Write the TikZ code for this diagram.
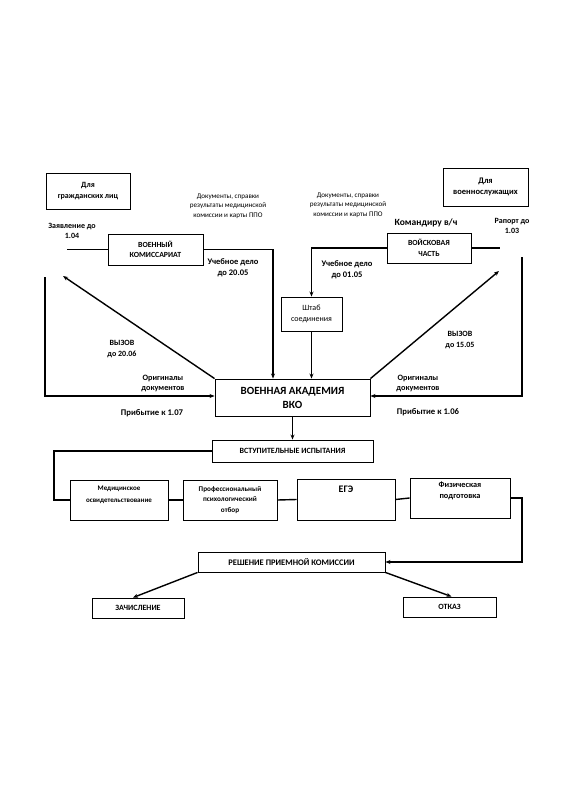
\documentclass[tikz,border=0pt]{standalone}
\usepackage{fontspec}
\setmainfont{Carlito}
\usetikzlibrary{arrows.meta,calc}
\tikzset{
  box/.style={draw=black, line width=0.9pt, align=center, inner sep=1pt, font=\bfseries\fontsize{7.8}{10.5}\selectfont},
  lbl/.style={align=center, inner sep=0pt, font=\bfseries\fontsize{8}{10.5}\selectfont},
  small/.style={align=center, inner sep=0pt, font=\fontsize{7.1}{9.6}\selectfont},
  conn/.style={line width=1.4pt},
  arr/.style={line width=1.4pt, -{Stealth[length=5pt,width=4pt]}},
}
\begin{document}
\begin{tikzpicture}[x=1pt,y=-1pt]
\useasboundingbox (0,0) rectangle (566,800);
% boxes
\node[box, minimum width=84pt, minimum height=36pt, font=\bfseries\fontsize{8}{10.5}\selectfont] (civ) at (88,191) {Для\\гражданских лиц};
\node[box, minimum width=85pt, minimum height=38pt, font=\bfseries\fontsize{8.5}{10.5}\selectfont] (mil) at (485.5,187) {Для\\военнослужащих};
\node[box, minimum width=95pt, minimum height=31pt] (vk) at (155.5,249.5) {ВОЕННЫЙ\\КОМИССАРИАТ};
\node[box, minimum width=84pt, minimum height=30pt] (vch) at (429,248) {ВОЙСКОВАЯ\\ЧАСТЬ};
\node[box, minimum width=61pt, minimum height=34pt, font=\fontsize{8}{11.5}\selectfont] (shtab) at (311.5,314) {Штаб\\соединения};
\node[box, minimum width=155pt, minimum height=37pt, font=\bfseries\fontsize{11}{14}\selectfont] (vka) at (292.5,397.5) {ВОЕННАЯ АКАДЕМИЯ\\ВКО};
\node[box, minimum width=161pt, minimum height=22pt, font=\bfseries\fontsize{8}{9}\selectfont] (vi) at (292.5,451) {ВСТУПИТЕЛЬНЫЕ ИСПЫТАНИЯ};
\node[box, minimum width=98pt, minimum height=40pt] (med) at (119,500) {};
\node[lbl, font=\bfseries\fontsize{7}{12.5}\selectfont] (medtxt) at (119,495) {Медицинское\\освидетельствование};
\node[box, minimum width=94pt, minimum height=40pt, font=\bfseries\fontsize{7.2}{10.5}\selectfont] (prof) at (230,500) {Профессиональный\\психологический\\отбор};
\node[box, minimum width=98pt, minimum height=41pt] (ege) at (346,499.5) {};
\node[lbl, font=\bfseries\fontsize{10}{11}\selectfont] (egetxt) at (346,489) {ЕГЭ};
\node[box, minimum width=100pt, minimum height=40pt] (fiz) at (460,498) {};
\node[lbl, font=\bfseries\fontsize{8.3}{11}\selectfont] (fiztxt) at (460,491) {Физическая\\подготовка};
\node[box, minimum width=187pt, minimum height=20pt, font=\bfseries\fontsize{8.5}{9}\selectfont] (resh) at (291.5,562) {РЕШЕНИЕ ПРИЕМНОЙ КОМИССИИ};
\node[box, minimum width=92pt, minimum height=20pt, font=\bfseries\fontsize{8}{9}\selectfont] (zach) at (138,608) {ЗАЧИСЛЕНИЕ};
\node[box, minimum width=93pt, minimum height=20pt, font=\bfseries\fontsize{8}{9}\selectfont] (otkaz) at (449.5,607) {ОТКАЗ};
% labels
\node[small] (doc1) at (228,206) {Документы, справки\\результаты медицинской\\комиссии и карты ППО};
\node[small] (doc2) at (348,205) {Документы, справки\\результаты медицинской\\комиссии и карты ППО};
\node[lbl] (zayav) at (72,231) {Заявление до\\1.04};
\node[lbl, font=\bfseries\fontsize{8.5}{11}\selectfont] (uch1) at (233,268) {Учебное дело\\до 20.05};
\node[lbl, font=\bfseries\fontsize{8.5}{11}\selectfont] (uch2) at (347,270) {Учебное дело\\до 01.05};
\node[lbl, font=\bfseries\fontsize{9.5}{10}\selectfont] (kom) at (426,223) {Командиру в/ч};
\node[lbl] (rap) at (512,226) {Рапорт до\\1.03};
\node[lbl, font=\bfseries\fontsize{8}{11}\selectfont] (vyz1) at (122,349) {ВЫЗОВ\\до 20.06};
\node[lbl, font=\bfseries\fontsize{8}{11}\selectfont] (vyz2) at (460,340) {ВЫЗОВ\\до 15.05};
\node[lbl, font=\bfseries\fontsize{8.2}{10}\selectfont] (orig1) at (163,383) {Оригиналы\\документов};
\node[lbl, font=\bfseries\fontsize{8.2}{10}\selectfont] (orig2) at (418,383) {Оригиналы\\документов};
\node[lbl, font=\bfseries\fontsize{8.7}{10}\selectfont] (prib1) at (152,413) {Прибытие к 1.07};
\node[lbl, font=\bfseries\fontsize{8.7}{10}\selectfont] (prib2) at (428,412) {Прибытие к 1.06};
% free ends
\coordinate (zl) at (67,249.5);
\coordinate (vkturn) at (273,249.5);
\coordinate (rp) at (500,248);
\coordinate (lv) at (45,277);
\coordinate (rv) at (522,257);
\coordinate (ltip) at (63,276);
\coordinate (rtip) at (499,271);
\coordinate (lb) at (54,470);
\coordinate (rb) at (522,530);
% connectors
\draw[conn] (zl) -- (vk.west);
\draw[arr] (vk.east) -- (vkturn) -- (vkturn |- vka.north);
\draw[conn] (vch.east) -- (rp);
\draw[arr] (vch.west) -| (shtab.north);
\draw[arr] (shtab.south) -- (shtab.south |- vka.north);
\draw[arr] (lv) |- ([yshift=1.5pt]vka.west);
\draw[arr] (rv) |- ([yshift=1.5pt]vka.east);
\draw[arr] (vka.north west) -- (ltip);
\draw[arr] (vka.north east) -- (rtip);
\draw[arr] (vka.south) -- (vi.north);
\draw[conn] (vi.west) -| (lb) |- (med.west);
\draw[conn] (med.east) -- (prof.west);
\draw[conn] (prof.east) -- (ege.west);
\draw[conn] (ege.east) -- (fiz.west);
\draw[arr] (fiz.east) -| (rb) |- (resh.east);
\draw[arr] (resh.south west) -- ([xshift=-5pt]zach.north);
\draw[arr] (resh.south east) -- ([xshift=2pt]otkaz.north);
\end{tikzpicture}
\end{document}
